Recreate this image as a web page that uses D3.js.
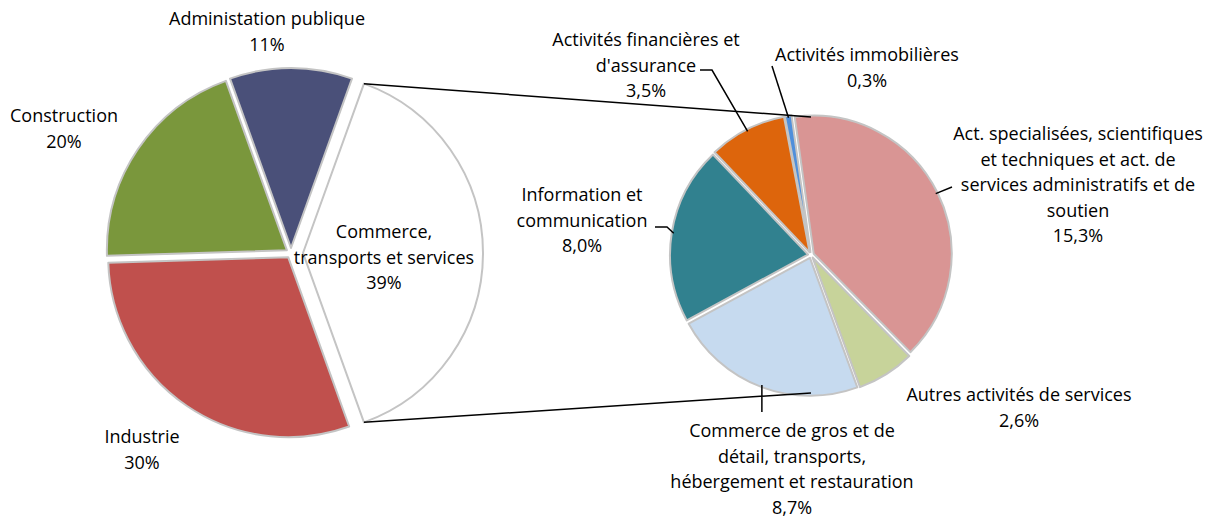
<!DOCTYPE html>
<html><head><meta charset="utf-8">
<script src="https://cdn.jsdelivr.net/npm/d3@7"></script>
<style>
html,body{margin:0;padding:0;background:#fff;}
svg text{font-family:"Open Sans",sans-serif;font-size:18px;fill:#000;}
</style></head>
<body>
<svg id="chart" width="1223" height="518"></svg>
<script>
// ---- data ----
const mainCategories = ["Commerce, transports et services", "Industrie", "Construction", "Administation publique"];
const mainValues = [39, 30, 20, 11];
const mainColors = ["#ffffff", "#c0504d", "#7a973c", "#4a5079"];

const subCategories = [
  "Act. specialisées, scientifiques et techniques et act. de services administratifs et de soutien",
  "Autres activités de services",
  "Commerce de gros et de détail, transports, hébergement et restauration",
  "Information et communication",
  "Activités financières et d'assurance",
  "Activités immobilières"
];
const subValues = [15.3, 2.6, 8.7, 8.0, 3.5, 0.3];
const subColors = ["#d99594", "#c7d39a", "#c6daef", "#31818f", "#dd650c", "#4f8fdb"];

// label layout (text lines)
const mainLabelLines = [
  ["Commerce,", "transports et services"],
  ["Industrie"],
  ["Construction"],
  ["Administation publique"]
];
const subLabelLines = [
  ["Act. specialisées, scientifiques", "et techniques et act. de", "services administratifs et de", "soutien"],
  ["Autres activités de services"],
  ["Commerce de gros et de", "détail, transports,", "hébergement et restauration"],
  ["Information et", "communication"],
  ["Activités financières et", "d'assurance"],
  ["Activités immobilières"]
];

const svg = d3.select("#chart");
const fr = v => d3.format(".1f")(v).replace(".", ",") + "%";
const lineH = 25.5;

// ---- main pie ----
const mainC = {x: 291, y: 253}, mainR = 180;
const mainTotal = d3.sum(mainValues);
const mainStart = Math.PI / 2 - (mainValues[0] / mainTotal) * Math.PI;
const mainPie = d3.pie().sort(null).value(d => d).startAngle(mainStart).endAngle(mainStart + 2 * Math.PI);
const mainArcs = mainPie(mainValues);
const explode = [12, 5, 5, 5];
const arcMain = d3.arc().innerRadius(0).outerRadius(mainR);
const gMain = svg.append("g").attr("transform", `translate(${mainC.x},${mainC.y})`);
const off = (a, d) => { const m = (a.startAngle + a.endAngle) / 2; return [d * Math.sin(m), -d * Math.cos(m)]; };
gMain.selectAll("path").data(mainArcs).join("path")
  .attr("d", arcMain)
  .attr("transform", (d, i) => { const o = off(d, explode[i]); return `translate(${o[0]},${o[1]})`; })
  .attr("fill", (d, i) => mainColors[i])
  .attr("stroke", "#c4c4c4").attr("stroke-width", 2).attr("stroke-linejoin", "round");

// ---- sub pie ----
const subC = {x: 811, y: 255}, subR = 138;
const subStart = -7.9 * Math.PI / 180;
const subPie = d3.pie().sort(null).value(d => d).startAngle(subStart).endAngle(subStart + 2 * Math.PI);
const subArcs = subPie(subValues);
const arcSub = d3.arc().innerRadius(0).outerRadius(subR);
const gSub = svg.append("g").attr("transform", `translate(${subC.x},${subC.y})`);
gSub.selectAll("path").data(subArcs).join("path")
  .attr("d", arcSub)
  .attr("transform", d => { const o = off(d, 3); return `translate(${o[0]},${o[1]})`; })
  .attr("fill", (d, i) => subColors[i])
  .attr("stroke", "#c4c4c4").attr("stroke-width", 2).attr("stroke-linejoin", "round");

// ---- connector lines ----
const cm = mainArcs[0], cmo = off(cm, explode[0]);
const cornerTop = [mainC.x + cmo[0] + mainR * Math.sin(cm.startAngle), mainC.y + cmo[1] - mainR * Math.cos(cm.startAngle)];
const cornerBot = [mainC.x + cmo[0] + mainR * Math.sin(cm.endAngle), mainC.y + cmo[1] - mainR * Math.cos(cm.endAngle)];
svg.append("line").attr("x1", cornerTop[0]).attr("y1", cornerTop[1]).attr("x2", subC.x).attr("y2", subC.y - subR)
  .attr("stroke", "#000").attr("stroke-width", 1.5);
svg.append("line").attr("x1", cornerBot[0]).attr("y1", cornerBot[1]).attr("x2", subC.x).attr("y2", subC.y + subR)
  .attr("stroke", "#000").attr("stroke-width", 1.5);

// ---- leader lines (sub pie) ----
const edgePt = a => { const m = (a.startAngle + a.endAngle) / 2; return [subC.x + (subR + 1) * Math.sin(m), subC.y - (subR + 1) * Math.cos(m)]; };
const leaderEnds = [
  [[952, 187]],
  null,
  [[null, 412]],
  [[667, 227], [655, 227]],
  [[712, 70], [700, 70]],
  [[772, 66]]
];
subArcs.forEach((a, i) => {
  if (!leaderEnds[i]) return;
  const p0 = edgePt(a);
  const pts = [p0].concat(leaderEnds[i].map(p => [p[0] === null ? p0[0] : p[0], p[1]]));
  svg.append("path").attr("d", d3.line()(pts)).attr("fill", "none")
    .attr("stroke", "#000").attr("stroke-width", 1.5);
});

// ---- labels ----
function drawLabel(x, y, lines) {
  const t = svg.append("text").attr("text-anchor", "middle");
  lines.forEach((l, k) => t.append("tspan").attr("x", x).attr("y", y + k * lineH).text(l));
}
const mainLabelPos = [[384, 238], [142, 443], [64, 122], [267, 25]];
mainArcs.forEach((a, i) => drawLabel(mainLabelPos[i][0], mainLabelPos[i][1],
  mainLabelLines[i].concat([mainValues[i] + "%"])));

const subLabelPos = [[1078, 140], [1019, 401], [792, 437], [582, 201], [646, 46], [867, 61]];
subArcs.forEach((a, i) => drawLabel(subLabelPos[i][0], subLabelPos[i][1],
  subLabelLines[i].concat([fr(subValues[i])])));
</script>
</body></html>
